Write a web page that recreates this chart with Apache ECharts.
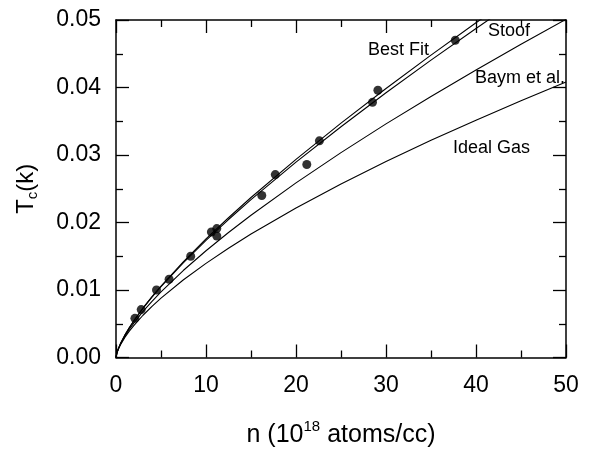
<!DOCTYPE html>
<html><head><meta charset="utf-8">
<script src="https://cdn.jsdelivr.net/npm/echarts@6/dist/echarts.min.js"></script>
<style>html,body{margin:0;padding:0;background:#fff}#c{width:589px;height:453px}</style>
</head><body><div id="c"></div>
<script>
// Density grid (10^18 atoms/cc) used for the theory curves
const nGrid    = [0, 0.1, 0.25, 0.5, 1, 1.5, 2, 3, 4, 5, 7.5, 10, 12.5, 15, 20, 25, 30, 35, 40, 45, 50];
const idealGas = [0, 0.000648, 0.001193, 0.00189, 0.00301, 0.00394, 0.00477, 0.00626, 0.00758, 0.00879, 0.01152, 0.01395, 0.01619, 0.01829, 0.02215, 0.0257, 0.02903, 0.03217, 0.03516, 0.03803, 0.0408];
const baym     = [0, 0.000667, 0.00124, 0.00198, 0.0032, 0.00422, 0.00514, 0.00682, 0.00832, 0.00972, 0.01292, 0.01581, 0.01852, 0.02108, 0.02587, 0.03035, 0.03461, 0.03868, 0.0426, 0.0464, 0.0501];
const stoof    = [0, 0.000682, 0.001278, 0.00206, 0.00335, 0.00445, 0.00545, 0.00728, 0.00894, 0.01049, 0.01407, 0.01735, 0.02044, 0.02339, 0.02894, 0.03419, 0.03922, 0.04406, 0.04875, 0.05332, 0.05779];
const bestFit  = [0, 0.000684, 0.001283, 0.00207, 0.00337, 0.00448, 0.00549, 0.00734, 0.00902, 0.01059, 0.01422, 0.01756, 0.0207, 0.0237, 0.02936, 0.03472, 0.03985, 0.0448, 0.04959, 0.05426, 0.05883];
// Measured points
const measN  = [2.1, 2.8, 4.5, 5.9, 8.3, 10.6, 11.2, 11.2, 16.2, 17.7, 21.2, 22.6, 28.5, 29.1, 37.7];
const measTc = [0.0058, 0.0071, 0.0100, 0.0116, 0.0150, 0.0186, 0.0191, 0.0180, 0.0240, 0.0271, 0.0286, 0.0321, 0.0378, 0.0396, 0.0470];
// Axes
const xMin = 0, xMax = 50, xStep = 10;
const yMin = 0, yMax = 0.05, yStep = 0.01;
const curveLabels = ['Best Fit', 'Stoof', 'Baym et al.', 'Ideal Gas'];

const FONT = 'Liberation Sans, Arial, Helvetica, sans-serif';
const zip = (xs, ys) => xs.map((x, i) => [x, ys[i]]);

const axisCommon = {
  type: 'value',
  axisLine: { show: true, onZero: false, lineStyle: { color: '#000', width: 1.5 } },
  axisTick: { show: true, inside: true, length: 13, lineStyle: { color: '#000', width: 1.3 } },
  minorTick: { show: true, splitNumber: 2, length: 7, lineStyle: { color: '#000', width: 1.3 } },
  splitLine: { show: false },
  minorSplitLine: { show: false }
};

const chart = echarts.init(document.getElementById('c'), null, { renderer: 'canvas' });
const lineStyle = { color: '#000', width: 1.1 };
const curve = (name, ys) => ({
  name, type: 'line', data: zip(nGrid, ys), showSymbol: false, symbol: 'none',
  smooth: false, clip: true, lineStyle, silent: true, z: 2
});

chart.setOption({
  animation: false,
  backgroundColor: '#fff',
  textStyle: { fontFamily: FONT },
  grid: { left: 116, right: 23, top: 20, bottom: 91, containLabel: false },
  xAxis: [
    Object.assign({}, axisCommon, {
      position: 'bottom', min: xMin, max: xMax, interval: xStep,
      axisLabel: { show: true, color: '#000', fontSize: 23, fontFamily: FONT, margin: 17 },
      name: '{a|n (10}{s|18}{a| atoms/cc)}',
      nameLocation: 'middle', nameGap: 62,
      nameTextStyle: {
        fontFamily: FONT, color: '#000',
        rich: {
          a: { fontSize: 25, fontFamily: FONT, color: '#000', lineHeight: 32 },
          s: { fontSize: 15, fontFamily: FONT, color: '#000', lineHeight: 15, verticalAlign: 'top' }
        }
      }
    }),
    Object.assign({}, axisCommon, {
      position: 'top', min: xMin, max: xMax, interval: xStep,
      axisLabel: { show: false }
    })
  ],
  yAxis: [
    Object.assign({}, axisCommon, {
      position: 'left', min: yMin, max: yMax, interval: yStep,
      axisLabel: { show: true, color: '#000', fontSize: 23, fontFamily: FONT, margin: 15,
        formatter: v => v.toFixed(2) },
      name: '{a|T}{b|c}{a|(k)}',
      nameLocation: 'middle', nameRotate: 90, nameGap: 76,
      nameTextStyle: {
        fontFamily: FONT, color: '#000',
        rich: {
          a: { fontSize: 24, fontFamily: FONT, color: '#000', lineHeight: 28 },
          b: { fontSize: 15, fontFamily: FONT, color: '#000', lineHeight: 14, verticalAlign: 'bottom' }
        }
      }
    }),
    Object.assign({}, axisCommon, {
      position: 'right', min: yMin, max: yMax, interval: yStep,
      axisLabel: { show: false }
    })
  ],
  series: [
    curve('Ideal Gas', idealGas),
    curve('Baym et al.', baym),
    curve('Stoof', stoof),
    curve('Best Fit', bestFit),
    {
      name: 'Data', type: 'scatter', data: zip(measN, measTc),
      symbol: 'circle', symbolSize: 9, itemStyle: { color: '#000' }, z: 3, silent: true
    }
  ],
  graphic: [
    { type: 'text', left: 368, top: 41, style: { text: curveLabels[0], fontSize: 18, fontFamily: FONT, fill: '#000' } },
    { type: 'text', left: 488, top: 22, style: { text: curveLabels[1], fontSize: 18, fontFamily: FONT, fill: '#000' } },
    { type: 'text', left: 475, top: 69, style: { text: curveLabels[2], fontSize: 18, fontFamily: FONT, fill: '#000' } },
    { type: 'text', left: 453, top: 139, style: { text: curveLabels[3], fontSize: 18, fontFamily: FONT, fill: '#000' } }
  ]
});
</script>
</body></html>
